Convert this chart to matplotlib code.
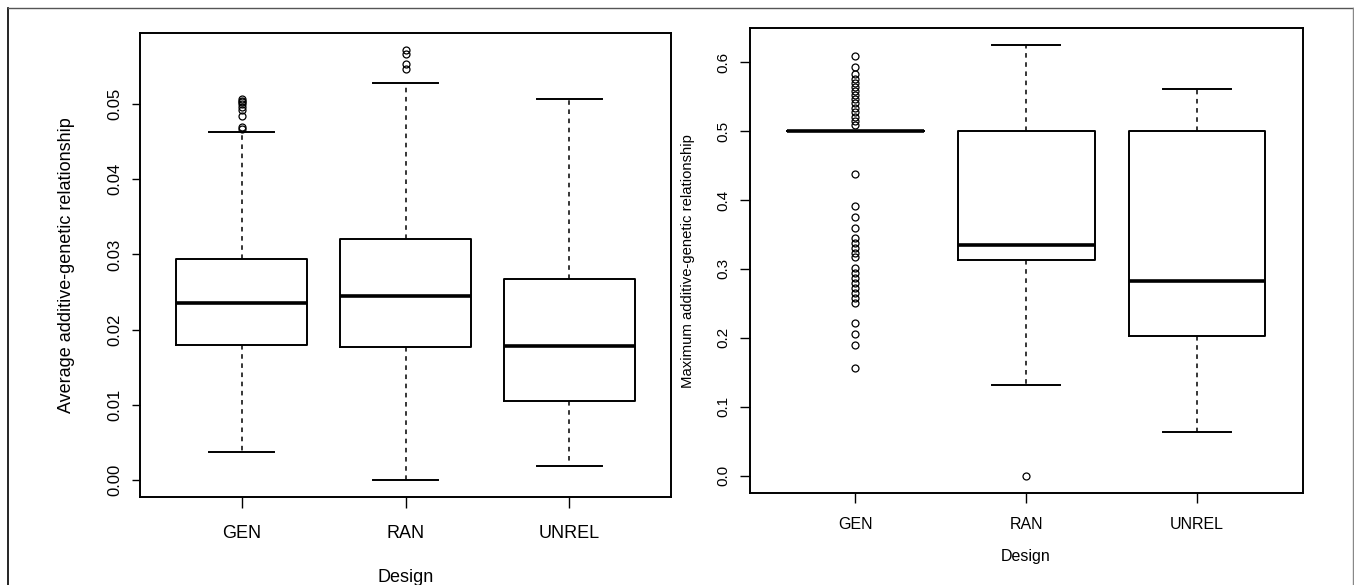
#Relationship boxplots by design
#Average and maximum additive-genetic relationship
import numpy as np
import matplotlib.pyplot as plt
from matplotlib.lines import Line2D

designs = ['GEN', 'RAN', 'UNREL']

# average relationship (left panel)
avg_q1 = [0.0179, 0.0177, 0.0105]
avg_med = [0.0236, 0.0245, 0.0178]
avg_q3 = [0.0294, 0.0321, 0.0267]
avg_whislo = [0.0037, 0.0000, 0.0019]
avg_whishi = [0.0463, 0.0528, 0.0507]
avg_fliers_gen = [0.0467, 0.0470, 0.0484, 0.0493, 0.0496, 0.0500, 0.0503, 0.0505, 0.0507]
avg_fliers_ran = [0.0547, 0.0554, 0.0567, 0.0572]
avg_fliers_unrel = []

# maximum relationship (right panel)
max_q1 = [0.5, 0.3135, 0.2033]
max_med = [0.5, 0.335, 0.2818]
max_q3 = [0.5, 0.5, 0.5]
max_whislo = [0.5, 0.1317, 0.064]
max_whishi = [0.5, 0.6244, 0.561]
max_fliers_gen = [0.609, 0.593, 0.582, 0.576, 0.570, 0.564, 0.558, 0.552, 0.546,
                  0.540, 0.534, 0.528, 0.521, 0.515, 0.508, 0.438, 0.391, 0.375,
                  0.360, 0.345, 0.338, 0.331, 0.323, 0.317, 0.301, 0.294, 0.287,
                  0.280, 0.272, 0.265, 0.258, 0.251, 0.221, 0.205, 0.189, 0.157]
max_fliers_ran = [0.0]
max_fliers_unrel = []

plt.rcParams['font.family'] = ['Liberation Sans', 'DejaVu Sans']

W, H = 1354, 585
fig = plt.figure(figsize=(W / 100, H / 100), dpi=100)


def fx(px):
    return px / W


def fy(py):
    return 1 - py / H


def make_stats(q1, med, q3, lo, hi, fliers):
    stats = []
    for i in range(len(designs)):
        stats.append({'q1': q1[i], 'med': med[i], 'q3': q3[i],
                      'whislo': lo[i], 'whishi': hi[i],
                      'fliers': np.array(fliers[i]), 'label': designs[i]})
    return stats


def draw_panel(ax, stats, ticklen, lw):
    ax.bxp(stats, positions=[1, 2, 3], widths=0.8, capwidths=0.4,
           showfliers=True,
           boxprops=dict(color='black', linewidth=lw),
           whiskerprops=dict(color='black', linewidth=1.1, linestyle=(0, (3, 3))),
           capprops=dict(color='black', linewidth=lw),
           medianprops=dict(color='black', linewidth=2.6),
           flierprops=dict(marker='o', markerfacecolor='none', markeredgecolor='black',
                           markersize=5, markeredgewidth=0.9, linestyle='none'))
    vals = []
    for s in stats:
        vals += [s['whislo'], s['whishi']] + list(s['fliers'])
    lo, hi = min(vals), max(vals)
    pad = (hi - lo) * 0.04
    ax.set_ylim(lo - pad, hi + pad)
    ax.set_xlim(0.38, 3.62)
    for sp in ax.spines.values():
        sp.set_linewidth(1.4)
    ax.tick_params(length=ticklen, width=1.0)


# left panel
ax1 = fig.add_axes([fx(140), fy(497), fx(671) - fx(140), fy(33) - fy(497)])
draw_panel(ax1, make_stats(avg_q1, avg_med, avg_q3, avg_whislo, avg_whishi,
                           [avg_fliers_gen, avg_fliers_ran, avg_fliers_unrel]), 6, 1.4)
ax1.set_yticks(np.arange(0, 0.051, 0.01))
ax1.set_yticklabels(['%.2f' % v for v in np.arange(0, 0.051, 0.01)],
                    rotation=90, va='center', fontsize=12,
                    family=['Liberation Sans Narrow', 'Liberation Sans'])
ax1.tick_params(axis='y', pad=7)
ax1.set_xticks([1, 2, 3])
ax1.set_xticklabels(designs, fontsize=13)
ax1.tick_params(axis='x', length=8, pad=12)
fig.text(fx(67), fy(265), 'Average additive-genetic relationship', rotation=90,
         ha='center', va='center', fontsize=13)
fig.text(fx(406), fy(577), 'Design', ha='center', va='center', fontsize=13)

# right panel
ax2 = fig.add_axes([fx(749.5), fy(493), fx(1303) - fx(749.5), fy(28) - fy(493)])
draw_panel(ax2, make_stats(max_q1, max_med, max_q3, max_whislo, max_whishi,
                           [max_fliers_gen, max_fliers_ran, max_fliers_unrel]), 7, 1.4)
ax2.set_yticks(np.arange(0, 0.61, 0.1))
ax2.set_yticklabels(['%.1f' % v for v in np.arange(0, 0.61, 0.1)],
                    rotation=90, va='center', fontsize=11)
ax2.tick_params(axis='y', pad=7)
ax2.set_xticks([1, 2, 3])
ax2.set_xticklabels(designs, fontsize=11.5)
ax2.tick_params(axis='x', pad=10)
fig.text(fx(688), fy(261), 'Maximum additive-genetic relationship', rotation=90,
         ha='center', va='center', fontsize=10.7)
fig.text(fx(1026), fy(557), 'Design', ha='center', va='center', fontsize=11.5)

# outer frame
fig.add_artist(Line2D([fx(8), fx(8)], [fy(8), 0], color='black', linewidth=1.2))
fig.add_artist(Line2D([fx(8), fx(1352.5)], [fy(8), fy(8)], color='#555555', linewidth=1.0))
fig.add_artist(Line2D([fx(1352.5), fx(1352.5)], [fy(8), 0], color='#888888', linewidth=1.0))

plt.savefig('out.png', dpi=100)
